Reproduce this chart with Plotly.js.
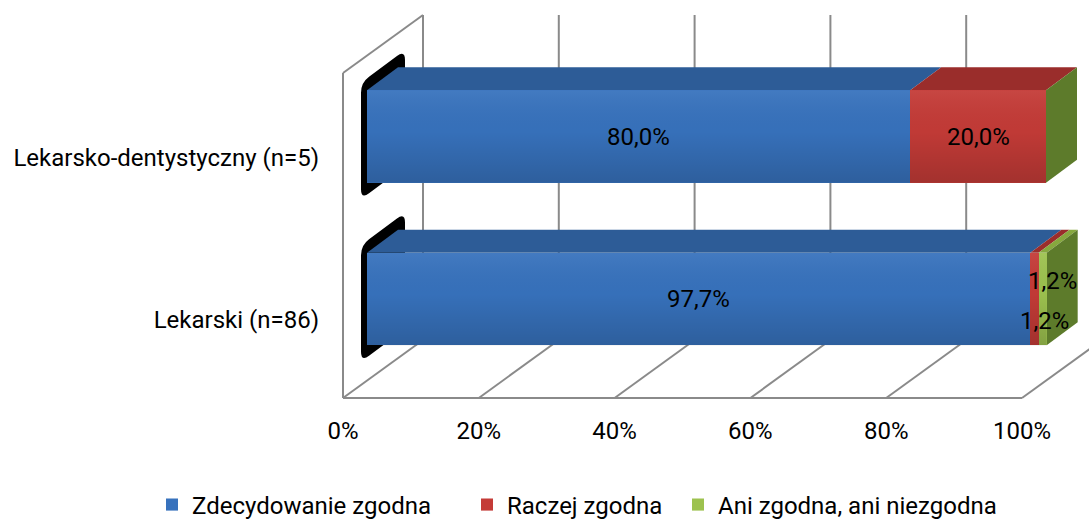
<!DOCTYPE html>
<html><head><meta charset="utf-8">
<script src="https://cdn.plot.ly/plotly-3.0.1.min.js"></script>
<style>html,body{margin:0;padding:0;background:#fff}#chart{width:1089px;height:520px}</style>
</head><body><div id="chart"></div>
<script>
// ---------- data ----------
const categories = ['Lekarski (n=86)', 'Lekarsko-dentystyczny (n=5)'];
const seriesNames = ['Zdecydowanie zgodna', 'Raczej zgodna', 'Ani zgodna, ani niezgodna'];
const zdecydowanie = [97.7, 80.0];
const raczej = [1.2, 20.0];
const ani = [1.2, 0.0];
const tickValues = [0, 20, 40, 60, 80, 100];
const tickLabels = ['0%', '20%', '40%', '60%', '80%', '100%'];

// ---------- style ----------
const series = [zdecydowanie, raczej, ani];
const frontColors = ['#3772bd', '#c43b37', '#9dc24f'];
const topColors = ['#2d5c97', '#9a2d2b', '#86a83e'];
const sideColor = '#5d7b2b';
const gridColor = '#8a8a8a';
const FONT = 'Roboto, Open Sans, sans-serif';
const FS = 24;
const legendWidths = [270, 166, null];

const W = 1089, H = 520;
const M = {l: 340, r: 0, t: 0, b: 118, autoexpand: false};
const plotW = W - M.l - M.r, plotH = H - M.t - M.b;
const kx = 6.79, ky = 162.5;   // px per percent, px per category step
const x0px = 367, y0px = 299;  // px of bar 0% and first category centre
const xRange = [(M.l - x0px) / kx, (W - M.r - x0px) / kx];
const yRange = [(y0px - (M.t + plotH)) / ky, (y0px - M.t) / ky];
const barW = 92.5 / ky;
const toX = px => (px - x0px) / kx;      // absolute px -> data
const toY = py => (y0px - py) / ky;
const dxBar = 31 / kx, dyBar = 23 / ky;  // bar depth
const frontShift = -24 / kx;             // front plane vs bar front
const wallDx = 80 / kx, wallDy = 58 / ky;
const floorFrontY = toY(398), wallTopFrontY = toY(73);

const shapes = [];
const line = (x0, y0, x1, y1) => shapes.push({type: 'line', xref: 'x', yref: 'y', x0, y0, x1, y1,
  layer: 'below', line: {color: gridColor, width: 2}});

// walls & floor
tickValues.forEach(v => {
  const fx = v + frontShift;
  line(fx, floorFrontY, fx + wallDx, floorFrontY + wallDy);                     // floor diagonal
  line(fx + wallDx, floorFrontY + wallDy, fx + wallDx, wallTopFrontY + wallDy); // back wall grid
});
line(frontShift, floorFrontY, tickValues[tickValues.length - 1] + frontShift, floorFrontY);
line(frontShift, floorFrontY, frontShift, wallTopFrontY);
line(frontShift, wallTopFrontY, frontShift + wallDx, wallTopFrontY + wallDy);

// black rounded end caps (left side of each bar)
function roundedPath(pts, r) {
  let d = '';
  const n = pts.length;
  for (let i = 0; i < n; i++) {
    const P = pts[(i - 1 + n) % n], C = pts[i], N = pts[(i + 1) % n];
    const lp = Math.hypot(P[0] - C[0], P[1] - C[1]), ln = Math.hypot(N[0] - C[0], N[1] - C[1]);
    const A = [C[0] + (P[0] - C[0]) * r / lp, C[1] + (P[1] - C[1]) * r / lp];
    const B = [C[0] + (N[0] - C[0]) * r / ln, C[1] + (N[1] - C[1]) * r / ln];
    const f = p => toX(p[0]).toFixed(4) + ',' + toY(p[1]).toFixed(4);
    d += (i === 0 ? 'M' : 'L') + f(A) + ' Q' + f(C) + ' ' + f(B) + ' ';
  }
  return d + 'Z';
}
categories.forEach((c, i) => {
  const yc = y0px - i * ky, top = yc - barW * ky / 2, bot = yc + barW * ky / 2;
  const slope = 23 / 31;
  const fx = x0px - 6, bx = x0px + 38;
  const pts = [[fx, top + 6 * slope - 12], [bx, top - 38 * slope - 12],
               [bx, bot - 38 * slope + 12], [fx, bot + 6 * slope + 12]];
  shapes.push({type: 'path', xref: 'x', yref: 'y', layer: 'below', path: roundedPath(pts, 10),
    fillcolor: '#000', line: {width: 0}});
});

// top faces and right side face
const poly = pts => 'M' + pts.map(p => p[0].toFixed(4) + ',' + p[1].toFixed(4)).join(' L') + ' Z';
categories.forEach((c, i) => {
  let cum = 0;
  const yt = i + barW / 2, yb = i - barW / 2;
  series.forEach((s, k) => {
    const a = cum, b = cum + s[i];
    if (s[i] > 0) {
      shapes.push({type: 'path', xref: 'x', yref: 'y', layer: 'below',
        path: poly([[a, yt], [b, yt], [b + dxBar, yt + dyBar], [a + dxBar, yt + dyBar]]),
        fillcolor: topColors[k], line: {width: 0}});
    }
    cum = b;
  });
  shapes.push({type: 'path', xref: 'x', yref: 'y', layer: 'below',
    path: poly([[cum, yt], [cum + dxBar, yt + dyBar], [cum + dxBar, yb + dyBar], [cum, yb]]),
    fillcolor: sideColor, line: {width: 0}});
});

// bar traces (front faces)
const yIdx = categories.map((c, i) => i);
const traces = series.map((s, k) => {
  const t = {type: 'bar', orientation: 'h', name: seriesNames[k], x: s, y: yIdx, width: barW,
    marker: {color: frontColors[k], line: {width: 0}}, hoverinfo: 'x+name'};
  if (legendWidths[k]) t.legendwidth = legendWidths[k];
  return t;
});

// soft vertical shading over each bar's front face (lighter top, darker bottom)
categories.forEach((c, i) => {
  const total = series.reduce((acc, s) => acc + s[i], 0);
  const yt = i + barW / 2, yb = i - barW / 2;
  traces.push({type: 'scatter', mode: 'none', x: [0, total, total, 0, 0], y: [yb, yb, yt, yt, yb],
    fill: 'toself', showlegend: false, hoverinfo: 'skip',
    fillgradient: {type: 'vertical', start: yb, stop: yt,
      colorscale: [[0, 'rgba(0,0,0,0.17)'], [0.55, 'rgba(0,0,0,0.02)'], [1, 'rgba(255,255,255,0.06)']]}});
});

// data labels
const fmt = v => v.toFixed(1).replace('.', ',') + '%';
const annotations = [];
const smallShift = [null, {x: 10, y: -22}, {x: 10, y: 18}];
categories.forEach((c, i) => {
  let cum = 0;
  series.forEach((s, k) => {
    const v = s[i];
    if (v > 0) {
      const sh = v < 5 ? smallShift[k] : {x: 0, y: 0};
      annotations.push({x: cum + v / 2, y: i, xref: 'x', yref: 'y', text: fmt(v), showarrow: false,
        xshift: sh.x, yshift: sh.y, font: {family: FONT, size: FS, color: '#000'}});
    }
    cum += v;
  });
});

const layout = {
  width: W, height: H, margin: M, paper_bgcolor: '#fff', plot_bgcolor: 'rgba(0,0,0,0)',
  barmode: 'stack', bargap: 0,
  font: {family: FONT, size: FS, color: '#000'},
  xaxis: {range: xRange, showgrid: false, zeroline: false, showticklabels: false, showline: false,
    automargin: false, fixedrange: true},
  xaxis2: {overlaying: 'x', anchor: 'y', side: 'bottom', automargin: false,
    range: [xRange[0] - frontShift, xRange[1] - frontShift],
    tickmode: 'array', tickvals: tickValues, ticktext: tickLabels, ticks: '',
    showgrid: false, zeroline: false, showline: false, ticklabelstandoff: 12,
    tickfont: {family: FONT, size: FS, color: '#000'}},
  yaxis: {range: yRange, showgrid: false, zeroline: false, showline: false, automargin: false,
    tickmode: 'array', tickvals: yIdx, ticktext: categories, ticks: '',
    ticklabelshift: 21, ticklabelstandoff: 20,
    tickfont: {family: FONT, size: FS, color: '#000'}},
  shapes, annotations,
  showlegend: true,
  legend: {orientation: 'h', x: (152 - M.l) / plotW, xanchor: 'left',
    y: (plotH - 505) / plotH, yanchor: 'middle', traceorder: 'normal',
    font: {family: FONT, size: 24, color: '#000'}, bgcolor: 'rgba(0,0,0,0)'}
};
// invisible trace so that xaxis2 (front-plane tick labels) is drawn
traces.push({type: 'scatter', x: [0], y: [0], xaxis: 'x2', mode: 'markers', marker: {opacity: 0},
  showlegend: false, hoverinfo: 'skip'});

Plotly.newPlot('chart', traces, layout, {displayModeBar: false, staticPlot: true});
</script></body></html>
